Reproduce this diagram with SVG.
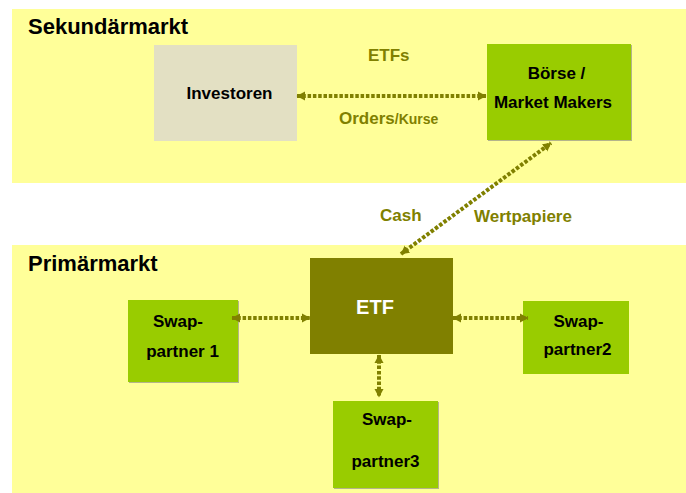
<svg xmlns="http://www.w3.org/2000/svg" width="686" height="493" viewBox="0 0 686 493">
  <defs>
    <marker id="head" markerUnits="userSpaceOnUse" markerWidth="10" markerHeight="10" refX="8" refY="5" orient="auto-start-reverse">
      <path d="M0,0.5 L8.5,5 L0,9.5 z" fill="#808000"/>
    </marker>
  </defs>
  <style>
    .panel { fill: #ffff99; }
    .title { font-family: "Liberation Sans", Arial, sans-serif; font-weight: bold; font-size: 22px; fill: #000; }
    .node-text { font-family: "Liberation Sans", Arial, sans-serif; font-weight: bold; font-size: 17px; fill: #000; text-anchor: middle; }
    .label { font-family: "Liberation Sans", Arial, sans-serif; font-weight: bold; font-size: 17px; fill: #808000; }
    .green { fill: #99cc00; }
    .shadow { fill: #b4b48c; }
    .link { stroke: #808000; stroke-width: 4; stroke-dasharray: 3.5 1.8; fill: none; marker-start: url(#head); marker-end: url(#head); }
  </style>

  <!-- market panels -->
  <rect class="panel" x="12" y="9" width="674" height="174"/>
  <rect class="panel" x="12" y="245" width="674" height="248"/>
  <text class="title" x="28" y="34">Sekundärmarkt</text>
  <text class="title" x="28" y="271">Primärmarkt</text>

  <!-- nodes -->
  <g id="investoren">
    <rect x="154" y="45" width="143" height="96" fill="#e3e0c3"/>
    <text class="node-text" x="229.5" y="99">Investoren</text>
  </g>
  <g id="boerse">
    <rect class="shadow" x="488" y="45" width="144" height="96"/>
    <rect class="green" x="487" y="44" width="144" height="96"/>
    <text class="node-text" x="556.5" y="79">Börse /</text>
    <text class="node-text" x="553" y="108">Market Makers</text>
  </g>
  <g id="etf">
    <rect x="310" y="258" width="143" height="96" fill="#808000"/>
    <text class="node-text" x="375" y="314" style="fill:#fff;font-size:20px">ETF</text>
  </g>
  <g id="swap1">
    <rect class="shadow" x="129" y="301" width="110" height="82"/>
    <rect class="green" x="128" y="300" width="110" height="82"/>
    <text class="node-text" x="178" y="327">Swap-</text>
    <text class="node-text" x="182.5" y="357">partner 1</text>
  </g>
  <g id="swap2">
    <rect class="green" x="523" y="301" width="106" height="73"/>
    <text class="node-text" x="578.5" y="327">Swap-</text>
    <text class="node-text" x="577.5" y="355">partner2</text>
  </g>
  <g id="swap3">
    <rect class="shadow" x="334" y="402" width="105" height="87"/>
    <rect class="green" x="333" y="401" width="105" height="87"/>
    <text class="node-text" x="387" y="425">Swap-</text>
    <text class="node-text" x="385.5" y="467">partner3</text>
  </g>

  <!-- connectors -->
  <g id="connectors">
    <line class="link" x1="297" y1="96" x2="486" y2="96"/>
    <line class="link" x1="401" y1="254" x2="551" y2="143"/>
    <line class="link" x1="232" y1="318" x2="310" y2="318"/>
    <line class="link" x1="453" y1="318" x2="528" y2="318"/>
    <line class="link" x1="379" y1="355" x2="379" y2="397"/>
  </g>

  <!-- connector labels -->
  <text class="label" x="368" y="61">ETFs</text>
  <text class="label" x="339" y="124">Orders<tspan style="font-size:14px">/Kurse</tspan></text>
  <text class="label" x="380" y="221">Cash</text>
  <text class="label" x="474" y="222">Wertpapiere</text>
</svg>
